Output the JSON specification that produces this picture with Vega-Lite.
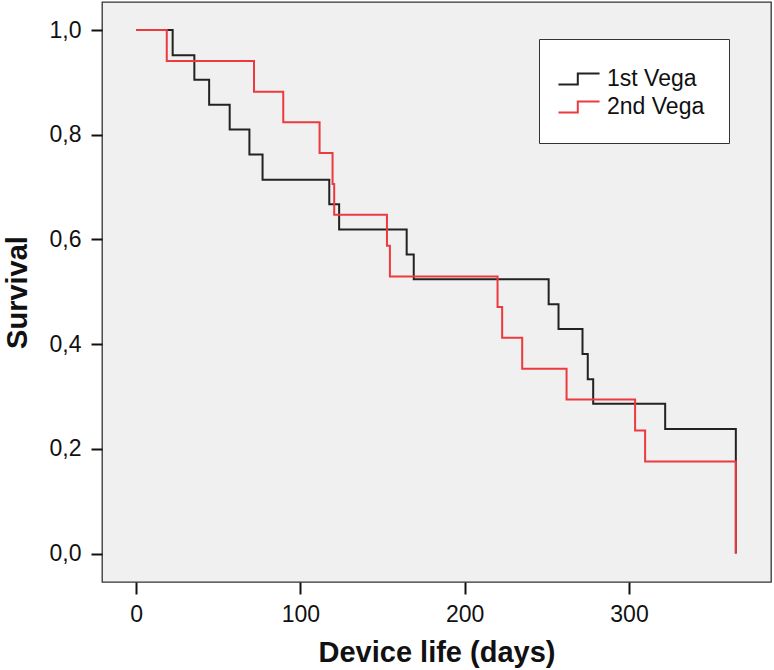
{
  "$schema": "https://vega.github.io/schema/vega-lite/v6.json",
  "width": 669,
  "height": 580,
  "autosize": {"type": "none"},
  "padding": {"left": 102, "top": 2, "right": 3, "bottom": 88},
  "background": "white",
  "config": {
    "font": "Liberation Sans",
    "view": {"fill": "#f0f0f0", "stroke": "#333333", "strokeWidth": 1.3},
    "axis": {"grid": false, "domain": false, "tickColor": "#111111", "tickWidth": 2, "labelColor": "#111111", "titleColor": "#111111", "labelFont": "Liberation Sans", "titleFont": "Liberation Sans"}
  },
  "data": {
    "values": [
      {"group": "1st Vega", "days": 0, "survival": 1.0},
      {"group": "1st Vega", "days": 22.3, "survival": 0.952},
      {"group": "1st Vega", "days": 35.5, "survival": 0.905},
      {"group": "1st Vega", "days": 44.5, "survival": 0.857},
      {"group": "1st Vega", "days": 57, "survival": 0.810},
      {"group": "1st Vega", "days": 69, "survival": 0.762},
      {"group": "1st Vega", "days": 77, "survival": 0.714},
      {"group": "1st Vega", "days": 117.6, "survival": 0.667},
      {"group": "1st Vega", "days": 123.6, "survival": 0.619},
      {"group": "1st Vega", "days": 164.7, "survival": 0.571},
      {"group": "1st Vega", "days": 169, "survival": 0.524},
      {"group": "1st Vega", "days": 251.1, "survival": 0.476},
      {"group": "1st Vega", "days": 257.1, "survival": 0.429},
      {"group": "1st Vega", "days": 271.7, "survival": 0.381},
      {"group": "1st Vega", "days": 274.9, "survival": 0.333},
      {"group": "1st Vega", "days": 278.2, "survival": 0.286},
      {"group": "1st Vega", "days": 322, "survival": 0.238},
      {"group": "1st Vega", "days": 365, "survival": 0.0},
      {"group": "2nd Vega", "days": 0, "survival": 1.0},
      {"group": "2nd Vega", "days": 18.7, "survival": 0.941},
      {"group": "2nd Vega", "days": 71.8, "survival": 0.882},
      {"group": "2nd Vega", "days": 89.6, "survival": 0.824},
      {"group": "2nd Vega", "days": 111.7, "survival": 0.765},
      {"group": "2nd Vega", "days": 119.6, "survival": 0.706},
      {"group": "2nd Vega", "days": 120.6, "survival": 0.647},
      {"group": "2nd Vega", "days": 152.7, "survival": 0.588},
      {"group": "2nd Vega", "days": 154.5, "survival": 0.529},
      {"group": "2nd Vega", "days": 220, "survival": 0.471},
      {"group": "2nd Vega", "days": 222.8, "survival": 0.412},
      {"group": "2nd Vega", "days": 235, "survival": 0.353},
      {"group": "2nd Vega", "days": 262, "survival": 0.294},
      {"group": "2nd Vega", "days": 303.7, "survival": 0.235},
      {"group": "2nd Vega", "days": 309.8, "survival": 0.176},
      {"group": "2nd Vega", "days": 365, "survival": 0.0}
    ]
  },
  "encoding": {
    "x": {
      "field": "days", "type": "quantitative",
      "scale": {"domain": [-20.7, 386.4], "nice": false, "zero": false},
      "axis": {"values": [0, 100, 200, 300], "title": "Device life (days)", "tickSize": 12, "labelPadding": 9, "labelFontSize": 23, "titleFontSize": 29, "titleFontWeight": "bold", "titleBaseline": "alphabetic", "titleY": 79}
    },
    "y": {
      "field": "survival", "type": "quantitative",
      "scale": {"domain": [-0.0544, 1.0535], "nice": false, "zero": false},
      "axis": {"values": [0, 0.2, 0.4, 0.6, 0.8, 1.0], "labelExpr": "replace(format(datum.value, '.1f'), '.', ',')", "title": "Survival", "tickSize": 11, "labelPadding": 10, "labelFontSize": 23, "titleFontSize": 29, "titleFontWeight": "bold", "titleBaseline": "alphabetic", "titleAngle": 270, "titleAlign": "center", "titleX": -76, "titleY": 290}
    },
    "color": {
      "field": "group", "type": "nominal",
      "scale": {"domain": ["1st Vega", "2nd Vega"], "range": ["#222222", "#ec3a3e"]},
      "legend": {
        "title": null, "orient": "none", "legendX": 437, "legendY": 37,
        "padding": 24, "fillColor": "white", "strokeColor": "#333333",
        "symbolType": "M-1.37,0.36H-0.08V-0.36H1.37", "symbolSize": 900, "symbolStrokeWidth": 2,
        "labelFontSize": 23, "labelFont": "Liberation Sans", "labelColor": "#111111", "labelOffset": 12, "rowPadding": 0
      }
    }
  },
  "layer": [
    {"transform": [{"filter": "datum.group == '1st Vega'"}], "mark": {"type": "line", "interpolate": "step-after", "strokeWidth": 2}},
    {"transform": [{"filter": "datum.group == '2nd Vega'"}], "mark": {"type": "line", "interpolate": "step-after", "strokeWidth": 2}}
  ]
}
